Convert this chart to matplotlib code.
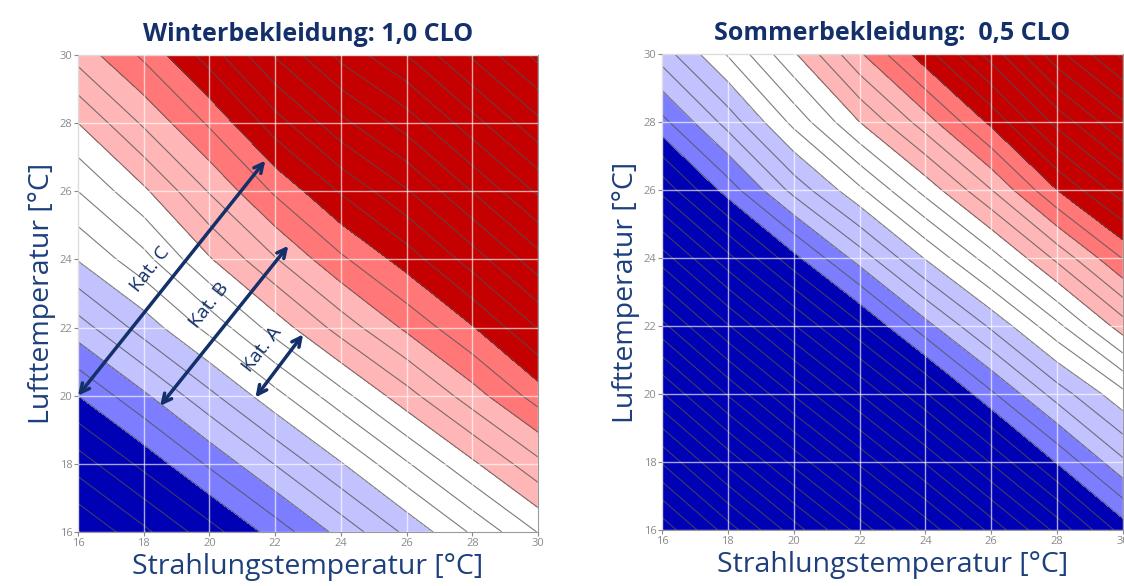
import numpy as np
import matplotlib as mpl
import matplotlib.pyplot as plt

# grid of radiant temperature (x) and air temperature (y), deg C
t_rad = [16, 18, 20, 22, 24, 26, 28, 30]
t_air = [16, 18, 20, 22, 24, 26, 28, 30]

# PMV at the grid nodes
# one list per radiant temperature, going up in air temperature (transposed below)
pmv_winter_cols = [
    [-1.206, -0.953, -0.700, -0.447, -0.194, 0.000, 0.200, 0.440],   # tr 16
    [-1.024, -0.771, -0.518, -0.256, -0.034, 0.180, 0.416, 0.620],   # tr 18
    [-0.842, -0.583, -0.325, -0.069, 0.190, 0.408, 0.615, 0.847],    # tr 20
    [-0.657, -0.395, -0.133, 0.144, 0.392, 0.616, 0.854, 1.110],     # tr 22
    [-0.466, -0.208, 0.066, 0.342, 0.580, 0.810, 1.070, 1.330],      # tr 24
    [-0.278, -0.011, 0.261, 0.520, 0.745, 0.989, 1.245, 1.500],      # tr 26
    [-0.085, 0.181, 0.455, 0.692, 0.947, 1.203, 1.459, 1.715],       # tr 28
    [0.104, 0.373, 0.646, 0.905, 1.161, 1.417, 1.673, 1.930],        # tr 30
]
pmv_summer_cols = [
    [-2.87, -2.49, -2.11, -1.73, -1.35, -0.97, -0.630, -0.350],     # tr 16
    [-2.55, -2.17, -1.79, -1.41, -1.03, -0.654, -0.360, -0.090],    # tr 18
    [-2.25, -1.87, -1.49, -1.11, -0.73, -0.367, -0.071, 0.187],     # tr 20
    [-1.96, -1.58, -1.20, -0.82, -0.456, -0.120, 0.200, 0.486],     # tr 22
    [-1.67, -1.29, -0.91, -0.536, -0.192, 0.135, 0.453, 0.760],     # tr 24
    [-1.37, -0.99, -0.618, -0.281, 0.055, 0.397, 0.724, 1.044],     # tr 26
    [-1.07, -0.691, -0.354, -0.026, 0.324, 0.700, 1.033, 1.367],    # tr 28
    [-0.757, -0.419, -0.128, 0.251, 0.606, 0.960, 1.294, 1.627],    # tr 30
]

# comfort categories (PMV limits) and arrow ends in the winter chart
band_levels = [-5, -0.7, -0.5, -0.2, 0.2, 0.5, 0.7, 5]
band_colors = ['#0000b4', '#7d7dff', '#c2c2ff', '#ffffff', '#ffb6b6', '#ff7777', '#c50000']
cat_names = ['Kat. C', 'Kat. B', 'Kat. A']
cat_start = [(16.0, 20.0), (18.5, 19.7), (21.4, 19.95)]
cat_end = [(21.7, 26.9), (22.4, 24.4), (22.85, 21.8)]
cat_text = [(18.2, 23.7), (20.0, 22.65), (21.6, 21.35)]

titles = ['Winterbekleidung: 1,0 CLO', 'Sommerbekleidung:  0,5 CLO']

navy = '#14306a'
label_blue = '#1d3f7c'

mpl.rcParams['font.family'] = ['Open Sans', 'DejaVu Sans']

fig = plt.figure(figsize=(11.24, 5.86), dpi=100)
ax1 = fig.add_axes([0.0694, 0.0922, 0.4093, 0.814])
ax2 = fig.add_axes([0.589, 0.0956, 0.410, 0.8123])

X, Y = np.meshgrid(t_rad, t_air)
line_levels = np.arange(-3.0, 2.55, 0.1)

for ax, cols, title in zip([ax1, ax2], [pmv_winter_cols, pmv_summer_cols], titles):
    Z = np.array(cols).T
    ax.contourf(X, Y, Z, levels=band_levels, colors=band_colors)
    ax.contour(X, Y, Z, levels=line_levels, colors='#505050', linewidths=0.8,
               alpha=0.75, linestyles='solid')
    ax.set_xlim(16, 30)
    ax.set_ylim(16, 30)
    ax.set_xticks(t_rad)
    ax.set_yticks(t_air)
    ax.grid(True, color='white', alpha=0.65, linewidth=1.0)
    ax.set_axisbelow(False)
    ax.tick_params(labelsize=8, colors='#8a8a8a', length=3, width=0.8, pad=1)
    for s in ax.spines.values():
        s.set_color('#9a9a9a')
        s.set_linewidth(0.8)
    ax.set_xlabel('Strahlungstemperatur [°C]', fontsize=20.5, color=label_blue, labelpad=3)
    ax.set_ylabel('Lufttemperatur [°C]', fontsize=20.5, color=label_blue, labelpad=3)
    ax.set_title(title, fontsize=18, fontweight='bold', color=navy, pad=10)

# category arrows
for name, p0, p1, pt in zip(cat_names, cat_start, cat_end, cat_text):
    ax1.annotate('', xy=p1, xytext=p0,
                 arrowprops=dict(arrowstyle='<->', color=navy, lw=2.5,
                                 mutation_scale=16, shrinkA=0, shrinkB=0))
    ax1.text(pt[0], pt[1], name, fontsize=14, color=navy, rotation=52,
             ha='center', va='center', rotation_mode='anchor')

plt.savefig('out.png', dpi=100)
